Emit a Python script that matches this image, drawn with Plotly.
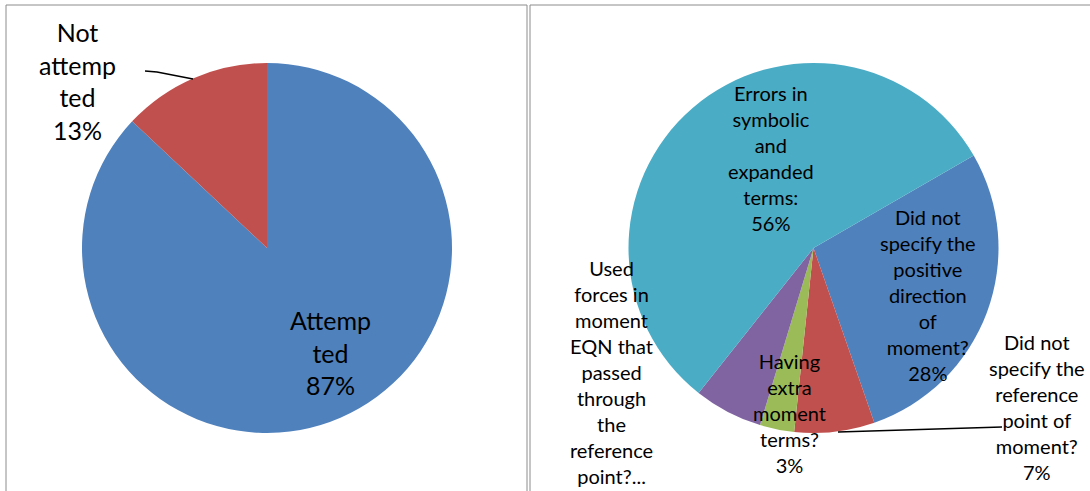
import plotly.graph_objects as go

W, H = 1090, 491

# left pie: attempted or not
left_labels = ["Attempted", "Not attempted"]
left_text = ["Attemp<br>ted", "Not<br>attemp<br>ted"]
left_values = [87, 13]
left_colors = ["#4F81BD", "#C0504D"]

# right pie: kinds of errors (clockwise from the blue slice)
right_labels = [
    "Did not specify the positive direction of moment?",
    "Did not specify the reference point of moment?",
    "Having extra moment terms?",
    "Used forces in moment EQN that passed through the reference point?",
    "Errors in symbolic and expanded terms:",
]
right_text = [
    "Did not<br>specify the<br>positive<br>direction<br>of<br>moment?",
    "Did not<br>specify the<br>reference<br>point of<br>moment?",
    "Having<br>extra<br>moment<br>terms?",
    "Used<br>forces in<br>moment<br>EQN that<br>passed<br>through<br>the<br>reference<br>point?...",
    "Errors in<br>symbolic<br>and<br>expanded<br>terms:",
]
right_values = [28, 7, 3, 6, 56]
right_show_pct = [True, True, True, False, True]
right_colors = ["#4F81BD", "#C0504D", "#9BBB59", "#8064A2", "#4BACC6"]

# label centres in pixels (x, y)
left_label_pos = [(330, 352), (77, 81)]
right_label_pos = [(928, 295), (1037, 407), (789, 413), (611, 372), (771, 158)]


def px(x):
    return x / W


def py(y):
    return 1 - y / H


def pie_domain(cx, cy, r):
    return dict(x=[px(cx - r), px(cx + r)], y=[py(cy + r), py(cy - r)])


fig = go.Figure()

fig.add_trace(go.Pie(
    labels=left_labels, values=left_values, sort=False, direction="clockwise",
    rotation=0, marker=dict(colors=left_colors, line=dict(width=0)),
    textinfo="none", hoverinfo="label+percent", showlegend=False,
    domain=pie_domain(267, 248, 185),
))

fig.add_trace(go.Pie(
    labels=right_labels, values=right_values, sort=False, direction="clockwise",
    rotation=60, marker=dict(colors=right_colors, line=dict(width=0)),
    textinfo="none", hoverinfo="label+percent", showlegend=False,
    domain=pie_domain(813.5, 248, 185),
))

annotations = []
for t, v, (x, y) in zip(left_text, left_values, left_label_pos):
    annotations.append(dict(
        text=f"{t}<br>{v}%", x=px(x), y=py(y), xref="paper", yref="paper",
        xanchor="center", yanchor="middle", align="center", showarrow=False,
        font=dict(size=25, color="black", family="Lato"),
    ))
for t, v, show, (x, y) in zip(right_text, right_values, right_show_pct, right_label_pos):
    txt = f"{t}<br>{v}%" if show else t
    annotations.append(dict(
        text=txt, x=px(x), y=py(y), xref="paper", yref="paper",
        xanchor="center", yanchor="middle", align="center", showarrow=False,
        font=dict(size=20, color="black", family="Lato"),
    ))


def path(points):
    return "M " + " L ".join(f"{px(x)},{py(y)}" for x, y in points)


shapes = [
    # panel frames
    dict(type="rect", xref="paper", yref="paper", x0=px(6), x1=px(527),
         y0=py(5), y1=py(500), line=dict(color="#8C8C8C", width=1)),
    dict(type="rect", xref="paper", yref="paper", x0=px(530), x1=px(1100),
         y0=py(5), y1=py(500), line=dict(color="#8C8C8C", width=1)),
    # leader lines
    dict(type="path", xref="paper", yref="paper",
         path=path([(145, 71), (157, 72), (193, 79)]),
         line=dict(color="black", width=1.5)),
    dict(type="path", xref="paper", yref="paper",
         path=path([(838, 432), (1002, 427)]),
         line=dict(color="black", width=1.5)),
]

fig.update_layout(
    width=W, height=H,
    margin=dict(l=0, r=0, t=0, b=0),
    paper_bgcolor="white", plot_bgcolor="white",
    font=dict(family="Lato", color="black"),
    annotations=annotations, shapes=shapes,
)

# drop the page's default body margin so the figure sits at the top-left corner
fig.write_html("out.html", config={"displayModeBar": False},
               post_script="document.body.style.margin='0px';")
